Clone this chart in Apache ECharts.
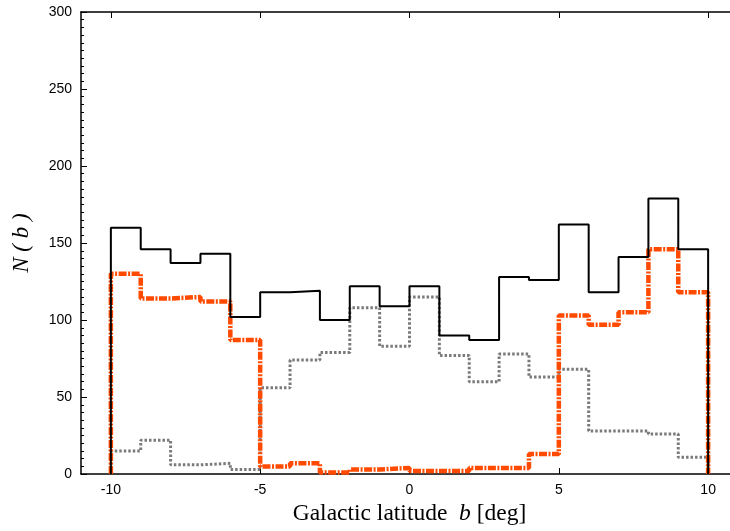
<!DOCTYPE html>
<html>
<head>
<meta charset="utf-8">
<script src="https://cdn.jsdelivr.net/npm/echarts@6/dist/echarts.min.js"></script>
<style>
  html, body { margin: 0; padding: 0; background: #fff; overflow: hidden; }
  /* the plot frame runs a few pixels past the right edge of the view */
  #chart { width: 740px; height: 531px; }
</style>
</head>
<body>
<div id="chart"></div>
<script>
// Histogram of N(b): 1-degree bins in Galactic latitude from -10 to +10
const binEdges = [-10, -9, -8, -7, -6, -5, -4, -3, -2, -1, 0, 1, 2, 3, 4, 5, 6, 7, 8, 9, 10];

const totalCounts = [160, 146, 137, 143, 102, 118, 119, 100, 122, 109,
                     122, 90, 87, 128, 126, 162, 118, 141, 179, 146];

const orangeCounts = [130, 114, 115, 112, 87, 5, 7, 1, 3, 4,
                      2, 2, 4, 4, 13, 103, 97, 105, 146, 118];

const grayCounts = [15, 22, 6, 7, 3, 56, 74, 79, 108, 83,
                    115, 77, 60, 78, 63, 68, 28, 28, 26, 11];

const xTickValues = [-10, -5, 0, 5, 10];

// Turn bin counts into a closed step outline (rise at the first edge, drop at the last)
function stepOutline(counts) {
  const pts = [[binEdges[0], 0]];
  for (let i = 0; i < counts.length; i++) pts.push([binEdges[i], counts[i]]);
  pts.push([binEdges[binEdges.length - 1], 0]);
  return pts;
}

const chart = echarts.init(document.getElementById('chart'), null, { renderer: 'canvas' });

const tickFont = { fontFamily: 'Liberation Sans, Arial, sans-serif', fontSize: 14, color: '#000' };
const serif = 'Liberation Serif, Times New Roman, serif';

chart.setOption({
  animation: false,
  backgroundColor: '#fff',
  grid: { left: 81, right: 2, top: 12, bottom: 55, containLabel: false },
  xAxis: [
    {
      type: 'value', min: -11, max: 11, position: 'bottom',
      axisLine: { show: true, onZero: false, lineStyle: { color: '#000', width: 1.5 } },
      axisTick: { show: true, inside: true, length: 6, customValues: xTickValues, lineStyle: { color: '#000', width: 1 } },
      axisLabel: { show: true, customValues: xTickValues, margin: 9, ...tickFont },
      splitLine: { show: false },
      name: '{n|Galactic latitude  }{i|b}{n| [deg]}',
      nameLocation: 'middle',
      nameGap: 24,
      nameTextStyle: {
        rich: {
          n: { fontFamily: serif, fontSize: 23.5, color: '#000' },
          i: { fontFamily: serif, fontSize: 23.5, fontStyle: 'italic', color: '#000' }
        }
      }
    },
    {
      type: 'value', min: -11, max: 11, position: 'top',
      axisLine: { show: true, onZero: false, lineStyle: { color: '#000', width: 1.5 } },
      axisTick: { show: true, inside: true, length: 6, customValues: xTickValues, lineStyle: { color: '#000', width: 1 } },
      axisLabel: { show: false },
      splitLine: { show: false }
    }
  ],
  yAxis: [
    {
      type: 'value', min: 0, max: 300, interval: 50, position: 'left',
      axisLine: { show: true, onZero: false, lineStyle: { color: '#000', width: 1.5 } },
      axisTick: { show: true, inside: true, length: 6, lineStyle: { color: '#000', width: 1 } },
      minorTick: { show: true, splitNumber: 10, length: 3, lineStyle: { color: '#000', width: 1 } },
      axisLabel: { show: true, margin: 9, ...tickFont },
      splitLine: { show: false },
      name: 'N ( b )',
      nameLocation: 'middle',
      nameGap: 48,
      nameRotate: 90,
      nameTextStyle: { fontFamily: serif, fontSize: 23, fontStyle: 'italic', color: '#000' }
    }
  ],
  series: [
    {
      name: 'gray', type: 'line', step: 'end', symbol: 'none', z: 2,
      data: stepOutline(grayCounts),
      lineStyle: { color: '#7a7a7a', width: 3, type: [2.5, 2] }
    },
    {
      name: 'orange', type: 'line', step: 'end', symbol: 'none', z: 3,
      data: stepOutline(orangeCounts),
      lineStyle: { color: '#ff4a00', width: 4.5, type: [8, 1.5, 2, 1.5] }
    },
    {
      name: 'total', type: 'line', step: 'end', symbol: 'none', z: 4,
      data: stepOutline(totalCounts),
      lineStyle: { color: '#000', width: 2 }
    }
  ]
});
</script>
</body>
</html>
